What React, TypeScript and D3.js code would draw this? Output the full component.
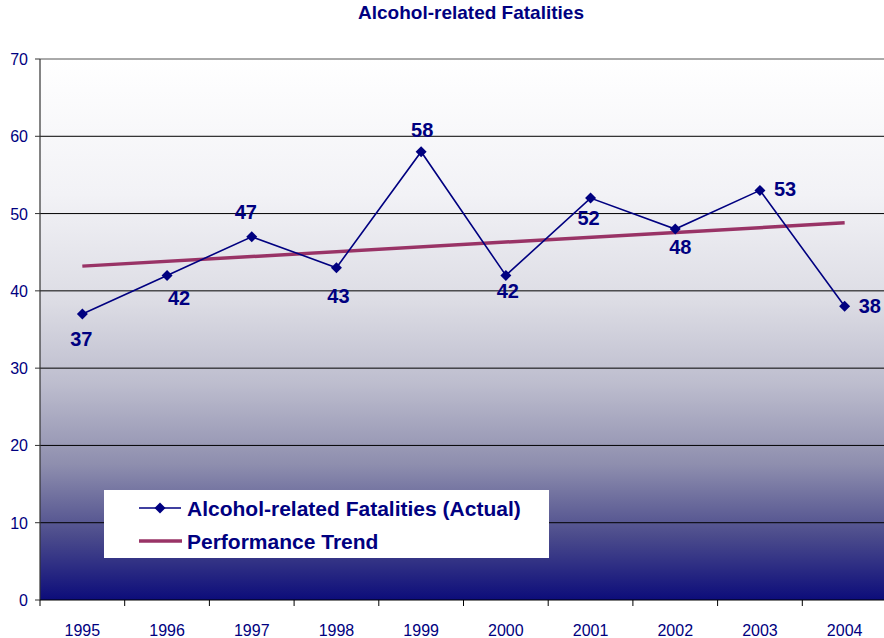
import * as d3 from "d3";

const years = ["1995", "1996", "1997", "1998", "1999", "2000", "2001", "2002", "2003", "2004"];
const actual = [37, 42, 47, 43, 58, 42, 52, 48, 53, 38];
// trend line end values (first and last year)
const trend = [43.2, 48.8];
const yTicks = [0, 10, 20, 30, 40, 50, 60, 70];

const W = 884;
const H = 638;
const margin = { top: 59, right: -3, bottom: 38, left: 40 };
const navy = "#000080";
const trendColor = "#993366";
const font = "'Liberation Sans', Arial, sans-serif";

// value label nudges (dx, dy, anchor) per point, as placed in the original
const labelNudge: [number, number, string][] = [
    [-1, 32, "middle"],
    [12, 30, "middle"],
    [-6, -18, "middle"],
    [2, 35, "middle"],
    [1, -15, "middle"],
    [2, 23, "middle"],
    [-2, 27, "middle"],
    [5, 25, "middle"],
    [14, 6, "start"],
    [14, 7, "start"],
];

function Diamond({ x, y, r }: { x: number; y: number; r: number }) {
    return <path d={`M${x},${y - r}L${x + r},${y}L${x},${y + r}L${x - r},${y}Z`} fill={navy} />;
}

export default function App() {
    const x0 = margin.left;
    const x1 = W - margin.right;
    const y0 = H - margin.bottom;
    const y1 = margin.top;

    const x = d3.scaleBand().domain(years).range([x0, x1]);
    const y = d3.scaleLinear().domain([0, 70]).range([y0, y1]);
    const cx = (yr: string) => (x(yr) || 0) + x.bandwidth() / 2;

    const line = d3
        .line<number>()
        .x((_, i) => cx(years[i]))
        .y((d) => y(d));

    return (
        <svg width={W} height={H} style={{ position: "absolute", left: 0, top: 0 }} fontFamily={font}>
            <defs>
                <linearGradient id="bg" x1="0" y1="0" x2="0" y2="1">
                    <stop offset="0" stopColor="#ffffff" />
                    <stop offset="0.25" stopColor="#f2f2f6" />
                    <stop offset="0.45" stopColor="#dcdce4" />
                    <stop offset="0.6" stopColor="#bdbdce" />
                    <stop offset="0.75" stopColor="#8e8eae" />
                    <stop offset="0.88" stopColor="#4c4c8c" />
                    <stop offset="1" stopColor="#0c0c7a" />
                </linearGradient>
            </defs>
            <rect width={W} height={H} fill="#ffffff" />
            <text x={471} y={19} textAnchor="middle" fontSize={19} fontWeight="bold" fill={navy}>
                Alcohol-related Fatalities
            </text>

            <rect x={x0} y={y1} width={x1 - x0} height={y0 - y1} fill="url(#bg)" />
            {yTicks.map((t) => (
                <g key={t}>
                    {t > 0 && t < 70 && (
                        <line x1={x0} x2={x1} y1={y(t)} y2={y(t)} stroke="#000" strokeWidth={1} />
                    )}
                    <line x1={x0 - 5} x2={x0} y1={y(t)} y2={y(t)} stroke="#333" strokeWidth={1} />
                    <text x={x0 - 12} y={y(t) + 6} textAnchor="end" fontSize={16} fill={navy}>
                        {t}
                    </text>
                </g>
            ))}
            <line x1={x0} x2={x1} y1={y1} y2={y1} stroke="#555" strokeWidth={1} />
            <line x1={x0} x2={x0} y1={y1} y2={y0} stroke="#333" strokeWidth={1.2} />
            <line x1={x0} x2={x1} y1={y0} y2={y0} stroke="#000" strokeWidth={1} />
            {years.map((yr, i) => (
                <g key={yr}>
                    <line x1={(x(yr) || 0)} x2={(x(yr) || 0)} y1={y0} y2={y0 + 6} stroke="#000" />
                    {i === years.length - 1 && (
                        <line x1={(x(yr) || 0) + x.bandwidth()} x2={(x(yr) || 0) + x.bandwidth()} y1={y0} y2={y0 + 6} stroke="#000" />
                    )}
                    <text x={cx(yr)} y={y0 + 36} textAnchor="middle" fontSize={16} fill={navy}>
                        {yr}
                    </text>
                </g>
            ))}

            <line
                x1={cx(years[0])}
                x2={cx(years[years.length - 1])}
                y1={y(trend[0])}
                y2={y(trend[1])}
                stroke={trendColor}
                strokeWidth={3.5}
            />
            <path d={line(actual) || undefined} fill="none" stroke={navy} strokeWidth={1.6} />
            {actual.map((v, i) => {
                const [dx, dy, anchor] = labelNudge[i];
                return (
                    <g key={i}>
                        <Diamond x={cx(years[i])} y={y(v)} r={5.5} />
                        <text
                            x={cx(years[i]) + dx}
                            y={y(v) + dy}
                            textAnchor={anchor}
                            fontSize={20}
                            fontWeight="bold"
                            fill={navy}
                        >
                            {v}
                        </text>
                    </g>
                );
            })}

            <g>
                <rect x={104} y={490} width={445} height={68} fill="#ffffff" />
                <line x1={139} x2={181} y1={508} y2={508} stroke={navy} strokeWidth={1.6} />
                <Diamond x={160} y={508} r={5.5} />
                <text x={187} y={515.5} fontSize={21} fontWeight="bold" fill={navy}>
                    Alcohol-related Fatalities (Actual)
                </text>
                <line x1={139} x2={182} y1={541} y2={541} stroke={trendColor} strokeWidth={3.5} />
                <text x={187} y={548.5} fontSize={21} fontWeight="bold" fill={navy}>
                    Performance Trend
                </text>
            </g>
        </svg>
    );
}
